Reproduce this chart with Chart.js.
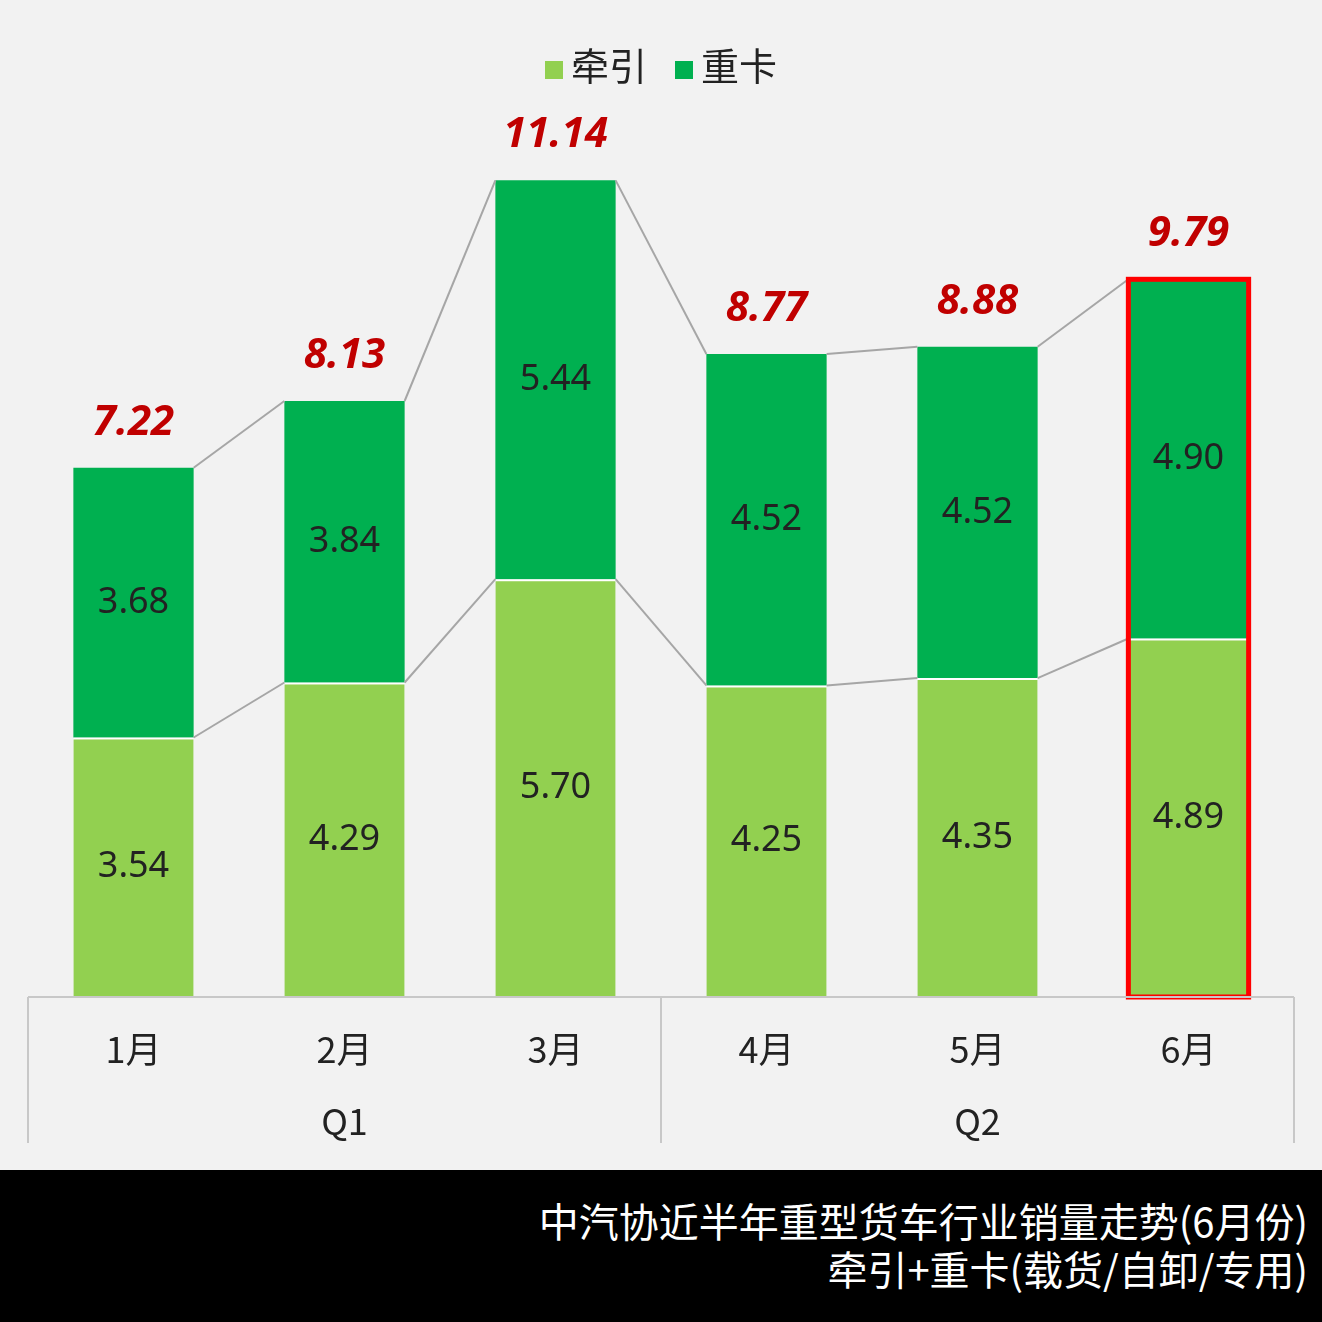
<!DOCTYPE html>
<html><head><meta charset="utf-8">
<script src="https://cdn.jsdelivr.net/npm/chart.js@4/dist/chart.umd.min.js"></script>
<style>
body{margin:0;background:#f2f2f2;font-family:"Noto Sans CJK SC",sans-serif;}
#wrap{position:relative;width:1322px;height:1170px;}
#legend{position:absolute;top:36px;left:0;width:1322px;text-align:center;font-size:38px;color:#222;}
#legend span.sw{display:inline-block;width:18px;height:18px;margin:0 8px 0 0;vertical-align:middle}
#legend span.it{margin:0 14px}
#footer{width:1322px;height:152px;background:#000;color:#fff;font-size:40px;text-align:right;box-sizing:border-box;padding:26px 14px 0 0;line-height:48px}
</style></head><body>
<div id="wrap">
<canvas id="c" width="1322" height="1170"></canvas>
<div id="legend"><span class="it"><span class="sw" style="background:#92D050"></span>牵引</span><span class="it"><span class="sw" style="background:#00B050"></span>重卡</span></div>
</div>
<div id="footer">中汽协近半年重型货车行业销量走势(6月份)<br>牵引+重卡(载货/自卸/专用)</div>
<script>
const months = ['1月','2月','3月','4月','5月','6月'];
const quarters = ['Q1','Q2'];
const tractor = [3.54,4.29,5.70,4.25,4.35,4.89];
const heavy = [3.68,3.84,5.44,4.52,4.52,4.90];
const totals = [7.22,8.13,11.14,8.77,8.88,9.79];

const overlay = {
  id:'overlay',
  afterDatasetsDraw(chart){
    const ctx = chart.ctx, a = chart.chartArea;
    const m0 = chart.getDatasetMeta(0).data, m1 = chart.getDatasetMeta(1).data;
    ctx.save();
    // connecting lines
    ctx.strokeStyle='#a6a6a6'; ctx.lineWidth=2;
    [m0,m1].forEach(ms=>{
      for(let i=0;i<ms.length-1;i++){
        const b=ms[i], n=ms[i+1];
        ctx.beginPath();
        ctx.moveTo(b.x+b.width/2, b.y);
        ctx.lineTo(n.x-n.width/2, n.y);
        ctx.stroke();
      }
    });
    // highlight last bar
    const lb1=m1[5];
    ctx.strokeStyle='#ff0000'; ctx.lineWidth=5;
    ctx.strokeRect(lb1.x-lb1.width/2, lb1.y, lb1.width, a.bottom-lb1.y);
    // value labels
    ctx.fillStyle='#222'; ctx.font='36px "Noto Sans", sans-serif';
    ctx.textAlign='center'; ctx.textBaseline='middle';
    m0.forEach((b,i)=>ctx.fillText(tractor[i].toFixed(2), b.x, b.y+(b.base-b.y)*0.5));
    m1.forEach((b,i)=>ctx.fillText(heavy[i].toFixed(2), b.x, b.y+(b.base-b.y)*0.5));
    ctx.fillStyle='#C00000'; ctx.font='italic bold 42px "Noto Sans", sans-serif';
    m1.forEach((b,i)=>ctx.fillText(totals[i].toFixed(2), b.x, b.y-45));
    // axis
    ctx.strokeStyle='#c8c8c8'; ctx.lineWidth=2;
    ctx.beginPath(); ctx.moveTo(a.left,a.bottom); ctx.lineTo(a.right,a.bottom); ctx.stroke();
    const mid=(a.left+a.right)/2;
    [a.left,mid,a.right].forEach(x=>{ctx.beginPath();ctx.moveTo(x,a.bottom);ctx.lineTo(x,a.bottom+146);ctx.stroke();});
    ctx.fillStyle='#222'; ctx.font='36px "Noto Sans CJK SC", sans-serif';
    m0.forEach((b,i)=>ctx.fillText(months[i], b.x, a.bottom+52));
    quarters.forEach((q,i)=>ctx.fillText(q, (m0[i*3+1].x), a.bottom+124));
    ctx.restore();
  }
};

new Chart(document.getElementById('c'), {
  type:'bar',
  data:{labels:months,datasets:[
    {label:'牵引',data:tractor,backgroundColor:'#92D050',borderColor:'#ffffff',borderWidth:{top:2},borderSkipped:'bottom'},
    {label:'重卡',data:heavy,backgroundColor:'#00B050'}
  ]},
  options:{
    responsive:false,animation:false,
    layout:{padding:{left:28,right:28,top:0,bottom:173}},
    datasets:{bar:{categoryPercentage:1,barPercentage:0.57}},
    scales:{
      x:{stacked:true,display:false},
      y:{stacked:true,display:false,min:0,max:13.6}
    },
    plugins:{legend:{display:false},tooltip:{enabled:false}}
  },
  plugins:[overlay]
});
</script>
</body></html>
